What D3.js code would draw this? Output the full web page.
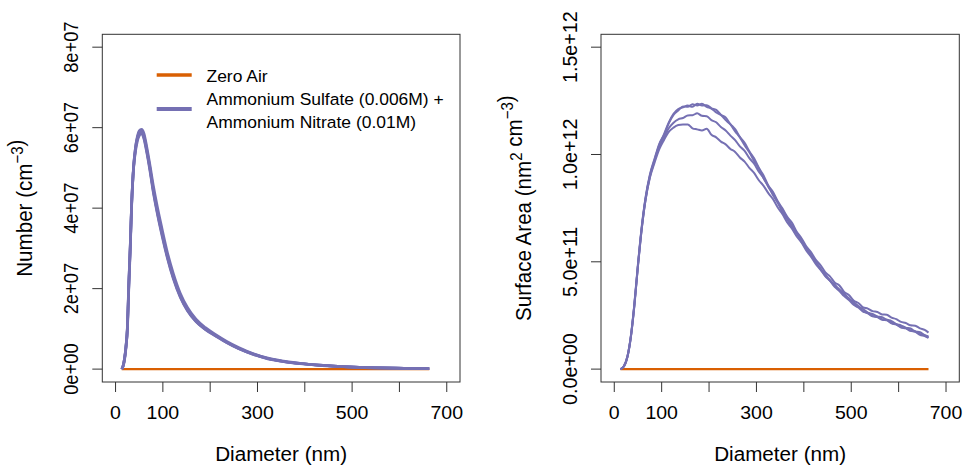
<!DOCTYPE html>
<html>
<head>
<meta charset="utf-8">
<title>Number and surface area size distributions</title>
<style>
    body {
        margin: 0;
        padding: 0;
        background: #fff;
    }
    svg {
        display: block;
        font-family: "Liberation Sans", Arial, sans-serif;
    }
</style>
</head>
<body>
<svg width="963" height="465"></svg>
<script src="https://d3js.org/d3.v7.min.js"></script>
<script>
    // number distribution, diameter in nm, values in 1e7 cm-3 (four scans)
    var numDiam = [13, 16, 19, 22, 25, 28, 31, 34, 38, 42, 46, 50, 55, 60, 66, 72, 80, 88, 98, 110,
        122, 137, 152, 170, 190, 210, 235, 260, 290, 320, 355, 390, 430, 470, 515, 560, 610, 663];
    var numScan1 = [0, 0.08, 0.25, 0.55, 1.0, 2.1, 3.0, 4.1, 5.0, 5.45, 5.72, 5.86, 5.92, 5.8, 5.45, 5.05, 4.45, 3.95, 3.4, 2.8,
        2.3, 1.82, 1.48, 1.2, 1.0, 0.85, 0.67, 0.52, 0.38, 0.27, 0.19, 0.14, 0.1, 0.07, 0.045, 0.03, 0.02, 0.01];
    var numScan2 = [0, 0.07, 0.23, 0.52, 0.97, 2.0, 2.95, 4.05, 4.98, 5.48, 5.78, 5.92, 5.96, 5.86, 5.52, 5.12, 4.55, 4.05, 3.5, 2.88,
        2.38, 1.88, 1.53, 1.24, 1.03, 0.87, 0.69, 0.54, 0.39, 0.28, 0.2, 0.145, 0.1, 0.07, 0.047, 0.031, 0.02, 0.01];
    var numScan3 = [0, 0.09, 0.27, 0.58, 1.05, 2.15, 3.05, 4.12, 4.98, 5.4, 5.66, 5.8, 5.85, 5.72, 5.38, 4.98, 4.38, 3.88, 3.33, 2.74,
        2.25, 1.78, 1.45, 1.18, 0.98, 0.83, 0.66, 0.51, 0.37, 0.26, 0.185, 0.135, 0.095, 0.068, 0.044, 0.029, 0.019, 0.01];
    var numScan4 = [0, 0.08, 0.26, 0.56, 1.02, 2.08, 3.02, 4.08, 5.02, 5.5, 5.75, 5.88, 5.9, 5.76, 5.42, 5.02, 4.42, 3.92, 3.37, 2.77,
        2.28, 1.8, 1.46, 1.19, 0.99, 0.84, 0.66, 0.51, 0.37, 0.27, 0.19, 0.14, 0.1, 0.07, 0.045, 0.03, 0.02, 0.01];

    // surface area distribution, values in 1e11 nm2 cm-3 (four scans)
    var saDiam = [13, 20, 28, 35, 42, 50, 58, 66, 75, 85, 95,
        105, 115, 125, 135, 145, 155, 165, 175, 185, 195, 205, 215, 225, 235, 245, 255, 265, 275, 285, 295,
        305, 315, 325, 335, 345, 355, 365, 375, 385, 395, 405, 415, 425, 435, 445, 455, 465, 475, 485, 495,
        505, 515, 525, 535, 545, 555, 565, 575, 585, 595, 605, 615, 625, 635, 645, 655, 663];
    var saScan1 = [0, 0.12, 0.6, 1.5, 2.9, 4.85, 6.6, 7.95, 9.0, 9.75, 10.45,
        10.95, 11.5, 11.9, 12.12, 12.2, 12.28, 12.22, 12.36, 12.28, 12.3, 12.15, 12.08, 11.85, 11.72, 11.42, 11.18, 10.82, 10.55, 10.15, 9.82,
        9.38, 9.02, 8.55, 8.25, 7.82, 7.48, 7.1, 6.82, 6.4, 6.1, 5.72, 5.45, 5.1, 4.85, 4.52, 4.32, 4.04, 3.9, 3.6, 3.45,
        3.2, 3.08, 2.88, 2.82, 2.7, 2.66, 2.55, 2.53, 2.4, 2.33, 2.2, 2.15, 2.04, 2.02, 1.9, 1.83, 1.7];
    var saScan2 = [0, 0.13, 0.62, 1.55, 2.95, 4.9, 6.65, 8.0, 9.05, 9.8, 10.5,
        10.9, 11.45, 11.85, 12.05, 12.24, 12.22, 12.34, 12.28, 12.36, 12.22, 12.14, 11.96, 11.84, 11.6, 11.4, 11.08, 10.8, 10.43, 10.1, 9.7,
        9.35, 8.9, 8.52, 8.1, 7.75, 7.3, 6.98, 6.6, 6.33, 5.93, 5.65, 5.28, 5.0, 4.66, 4.42, 4.13, 3.94, 3.7, 3.52, 3.28,
        3.14, 2.93, 2.8, 2.63, 2.57, 2.46, 2.42, 2.3, 2.24, 2.1, 2.04, 1.93, 1.89, 1.76, 1.72, 1.58, 1.52];
    var saScan3 = [0, 0.11, 0.58, 1.48, 2.85, 4.8, 6.55, 7.9, 8.95, 9.7, 10.35,
        10.8, 11.22, 11.48, 11.64, 11.7, 11.82, 11.83, 11.92, 11.8, 11.78, 11.6, 11.5, 11.28, 11.12, 10.88, 10.67, 10.38, 10.17, 9.83, 9.57,
        9.2, 8.9, 8.5, 8.17, 7.76, 7.42, 7.0, 6.7, 6.33, 6.02, 5.66, 5.34, 4.98, 4.7, 4.36, 4.14, 3.88, 3.7, 3.46, 3.3,
        3.06, 2.92, 2.7, 2.6, 2.46, 2.42, 2.3, 2.27, 2.13, 2.07, 1.94, 1.9, 1.78, 1.74, 1.6, 1.54, 1.45];
    var saScan4 = [0, 0.12, 0.6, 1.52, 2.9, 4.82, 6.55, 7.88, 8.9, 9.62, 10.25,
        10.68, 11.05, 11.25, 11.37, 11.4, 11.4, 11.22, 11.17, 11.12, 11.2, 10.92, 10.8, 10.6, 10.47, 10.26, 10.12, 9.86, 9.67, 9.38, 9.14,
        8.8, 8.54, 8.2, 7.92, 7.53, 7.22, 6.83, 6.54, 6.18, 5.9, 5.53, 5.24, 4.9, 4.64, 4.33, 4.12, 3.83, 3.64, 3.4, 3.22,
        3.0, 2.87, 2.68, 2.62, 2.48, 2.44, 2.33, 2.3, 2.16, 2.1, 1.96, 1.92, 1.8, 1.76, 1.63, 1.57, 1.48];

    // zero air blank
    var zeroDiam = [13, 663];
    var zeroVal = [0, 0];

    var xTicks = [0, 100, 200, 300, 400, 500, 600, 700];
    var xTickLabels = ["0", "100", "", "300", "", "500", "", "700"];
    var numTicks = [0, 2e7, 4e7, 6e7, 8e7];
    var numTickLabels = ["0e+00", "2e+07", "4e+07", "6e+07", "8e+07"];
    var saTicks = [0, 5e11, 1e12, 1.5e12];
    var saTickLabels = ["0.0e+00", "5.0e+11", "1.0e+12", "1.5e+12"];

    var legendNames = ["Zero Air", "Ammonium Sulfate (0.006M) +", "Ammonium Nitrate (0.01M)"];
    var zeroColor = "#d95f02",
        saltColor = "#7570b3";

    var svg = d3.select("svg");

    // text is drawn at size fs and stretched sx across the page (the picture is not square-pixelled)
    function label(g, x, y, anchor, rotate, fs, sx) {
        return g.append("text")
            .attr("transform", "translate(" + x + "," + y + ") scale(" + sx + ",1)" + (rotate ? " rotate(-90)" : ""))
            .attr("text-anchor", anchor)
            .style("font-size", fs + "px")
            .attr("fill", "#000");
    }

    function panel(opt) {
        var g = svg.append("g");
        var top = 34.3, bottom = 382;
        var x = d3.scaleLinear().domain([-28, 728]).range([opt.left, opt.right]);
        var y = d3.scaleLinear().domain([-0.04 * opt.ymax, 1.04 * opt.ymax]).range([bottom, top]);

        var line = d3.line()
            .x(function (d) { return x(d[0]); })
            .y(function (d) { return y(d[1]); })
            .curve(d3.curveMonotoneX);

        // blank first, then the four scans
        g.append("path")
            .datum(d3.zip(zeroDiam, zeroVal))
            .attr("d", line)
            .attr("fill", "none")
            .attr("stroke", zeroColor)
            .attr("stroke-width", 2.2);

        opt.scans.forEach(function (s) {
            g.append("path")
                .datum(d3.zip(opt.diam, s.map(function (v) { return v * opt.unit; })))
                .attr("d", line)
                .attr("fill", "none")
                .attr("stroke", saltColor)
                .attr("stroke-width", opt.lw)
                .attr("stroke-linejoin", "round");
        });

        // box
        g.append("rect")
            .attr("x", opt.left).attr("y", top)
            .attr("width", opt.right - opt.left).attr("height", bottom - top)
            .attr("fill", "none").attr("stroke", "#333").attr("stroke-width", 1);

        // x axis
        xTicks.forEach(function (t, i) {
            g.append("line")
                .attr("x1", x(t)).attr("x2", x(t))
                .attr("y1", bottom).attr("y2", bottom + 10)
                .attr("stroke", "#333");
            if (xTickLabels[i]) label(g, x(t), 419, "middle", false, 18.6, 1.05).text(xTickLabels[i]);
        });

        // y axis
        opt.ticks.forEach(function (t, i) {
            g.append("line")
                .attr("x1", opt.left - 10).attr("x2", opt.left)
                .attr("y1", y(t)).attr("y2", y(t))
                .attr("stroke", "#333");
            label(g, opt.left - 24.3, y(t), "middle", true, opt.tickFs, opt.tickSx).text(opt.tickLabels[i]);
        });

        label(g, (opt.left + opt.right) / 2, 461, "middle", false, 19.5, 1.06).text("Diameter (nm)");

        var yt = label(g, opt.left - 70.5, (top + bottom) / 2, "middle", true, 20.6, 1.1);
        opt.title.forEach(function (p) {
            if (p.sup) {
                yt.append("tspan").attr("dy", -8).style("font-size", "15px").text(p.sup);
                yt.append("tspan").attr("dy", 8).text("");
            } else {
                yt.append("tspan").text(p.t);
            }
        });
        return g;
    }

    panel({
        left: 102.3, right: 460, ymax: 8e7, unit: 1e7,
        diam: numDiam, scans: [numScan1, numScan2, numScan3, numScan4], lw: 2.7,
        ticks: numTicks, tickLabels: numTickLabels, tickFs: 18.3, tickSx: 1.13,
        title: [{t: "Number (cm"}, {sup: "\u22123"}, {t: ")"}]
    });

    panel({
        left: 601, right: 959.3, ymax: 1.5e12, unit: 1e11,
        diam: saDiam, scans: [saScan1, saScan2, saScan3, saScan4], lw: 2,
        ticks: saTicks, tickLabels: saTickLabels, tickFs: 19.7, tickSx: 1.05,
        title: [{t: "Surface Area (nm"}, {sup: "2"}, {t: " cm"}, {sup: "\u22123"}, {t: ")"}]
    });

    // legend, top of the left panel
    var leg = svg.append("g");
    [{y: 75, c: zeroColor, w: 3.5}, {y: 109, c: saltColor, w: 4}].forEach(function (d) {
        leg.append("line")
            .attr("x1", 156.7).attr("x2", 191.7)
            .attr("y1", d.y).attr("y2", d.y)
            .attr("stroke", d.c).attr("stroke-width", d.w);
    });
    [81.5, 105, 127.5].forEach(function (yy, i) {
        label(leg, 206.5, yy, "start", false, 16.8, 1.04).text(legendNames[i]);
    });
</script>
</body>
</html>
